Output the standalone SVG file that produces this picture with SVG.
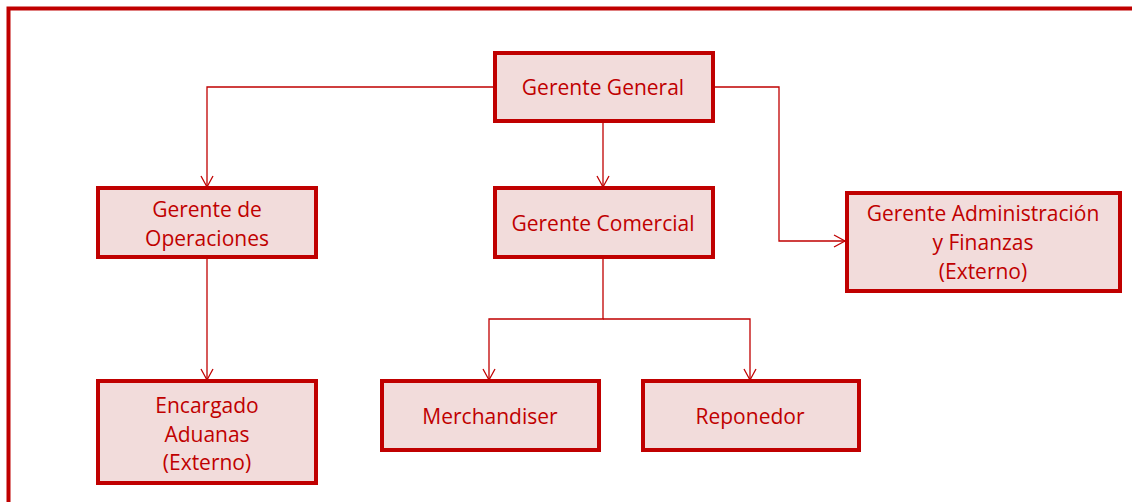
<svg xmlns="http://www.w3.org/2000/svg" width="1132" height="502" viewBox="0 0 1132 502">
  <style>
    .box rect { fill: #F2DCDB; stroke: #C00000; stroke-width: 4; }
    .box text { font-family: "Open Sans", "Liberation Sans", sans-serif; font-size: 21px; fill: #C00000; text-anchor: middle; }
    .links path { fill: none; stroke: #C00000; stroke-width: 1.3; marker-end: url(#arrow); }
  </style>
  <defs>
    <marker id="arrow" markerWidth="14" markerHeight="14" refX="12" refY="7" orient="auto" markerUnits="userSpaceOnUse">
      <path d="M1,1 L12,7 L1,13" fill="none" stroke="#C00000" stroke-width="1.3"/>
    </marker>
  </defs>

  <rect width="1132" height="502" fill="#FFFFFF"/>
  <!-- frame around the chart -->
  <rect x="8.5" y="8.5" width="1140" height="520" fill="none" stroke="#C00000" stroke-width="4"/>

  <g class="links">
    <path d="M494,87 H207 V187"/>
    <path d="M603,122 V187"/>
    <path d="M713,87 H779 V241 H845"/>
    <path d="M207,258 V380"/>
    <path d="M603,258 V319 H489 V380"/>
    <path d="M603,319 H750 V380"/>
  </g>

  <g id="gerente-general" class="box">
    <rect x="495" y="53" width="218" height="68"/>
    <text x="603" y="95">Gerente General</text>
  </g>
  <g id="gerente-operaciones" class="box">
    <rect x="98" y="188" width="218" height="69"/>
    <text x="207" y="217">Gerente de</text>
    <text x="207" y="246">Operaciones</text>
  </g>
  <g id="gerente-comercial" class="box">
    <rect x="495" y="188" width="218" height="69"/>
    <text x="603" y="231">Gerente Comercial</text>
  </g>
  <g id="gerente-administracion" class="box">
    <rect x="847" y="193" width="273" height="98"/>
    <text x="983" y="221">Gerente Administración</text>
    <text x="983" y="250">y Finanzas</text>
    <text x="983" y="279">(Externo)</text>
  </g>
  <g id="encargado-aduanas" class="box">
    <rect x="98" y="381" width="218" height="102"/>
    <text x="207" y="413">Encargado</text>
    <text x="207" y="442">Aduanas</text>
    <text x="207" y="470">(Externo)</text>
  </g>
  <g id="merchandiser" class="box">
    <rect x="382" y="381" width="217" height="69"/>
    <text x="490" y="424">Merchandiser</text>
  </g>
  <g id="reponedor" class="box">
    <rect x="643" y="381" width="216" height="69"/>
    <text x="750" y="424">Reponedor</text>
  </g>
</svg>
